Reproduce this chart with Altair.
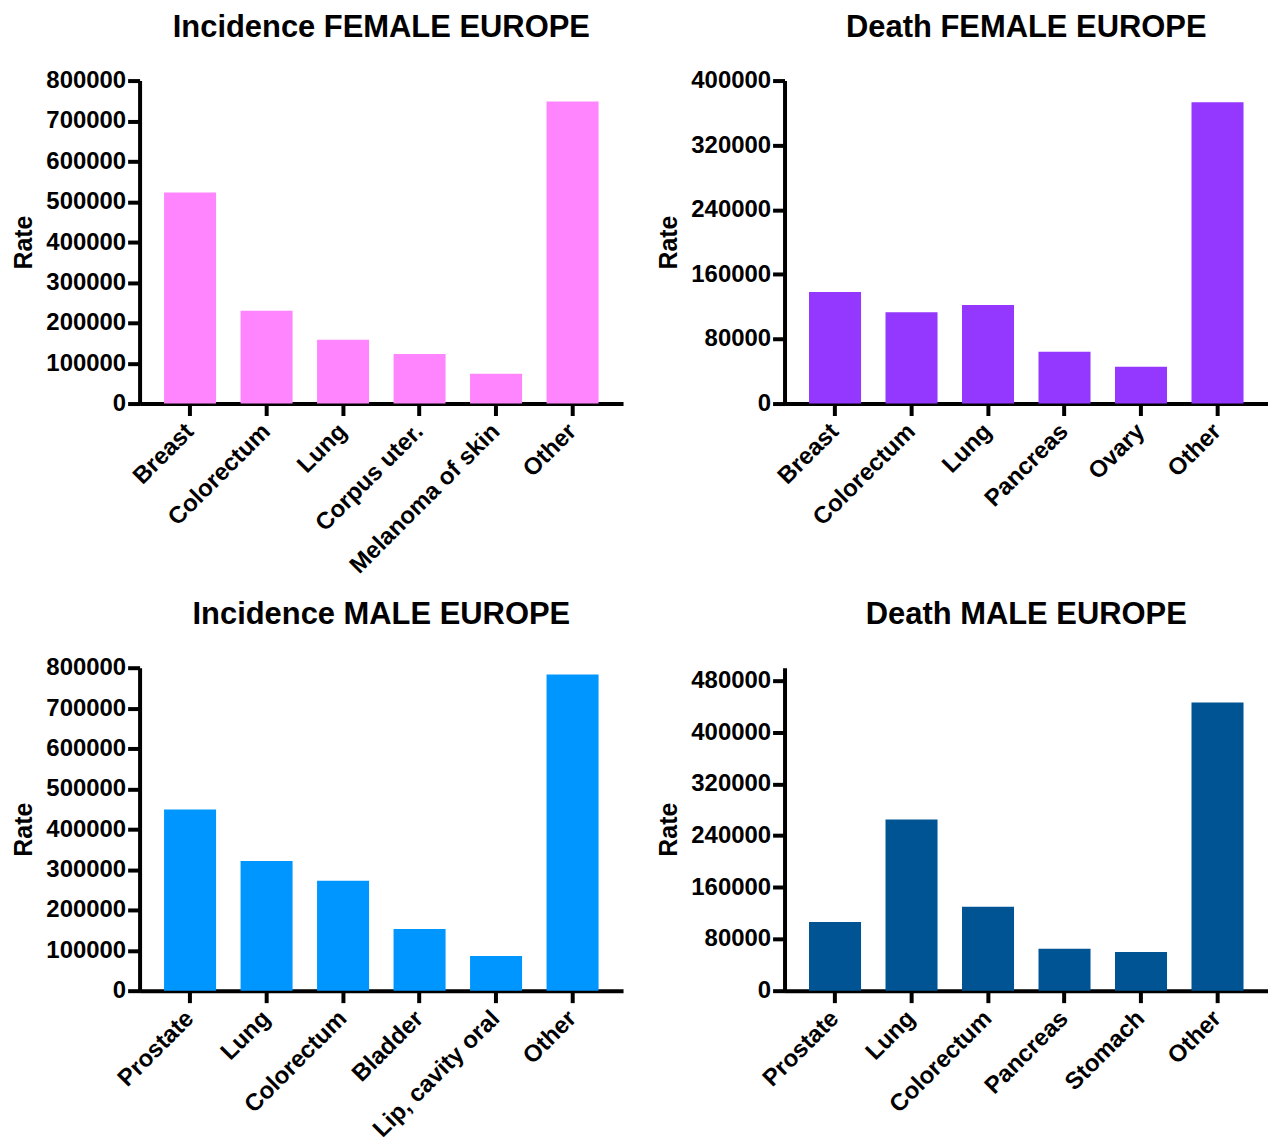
import altair as alt
import pandas as pd

FONT = "Liberation Sans"

# Incidence FEMALE EUROPE
inc_f_cat = ["Breast", "Colorectum", "Lung", "Corpus uter.", "Melanoma of skin", "Other"]
inc_f_val = [523000, 230000, 158000, 123000, 74000, 748000]

# Death FEMALE EUROPE
death_f_cat = ["Breast", "Colorectum", "Lung", "Pancreas", "Ovary", "Other"]
death_f_val = [138000, 113000, 122000, 64000, 45500, 373000]

# Incidence MALE EUROPE
inc_m_cat = ["Prostate", "Lung", "Colorectum", "Bladder", "Lip, cavity oral", "Other"]
inc_m_val = [449000, 321000, 272000, 153000, 86000, 783000]

# Death MALE EUROPE
death_m_cat = ["Prostate", "Lung", "Colorectum", "Pancreas", "Stomach", "Other"]
death_m_val = [106500, 265000, 130000, 65000, 60000, 446000]

ticks_100k = [0, 100000, 200000, 300000, 400000, 500000, 600000, 700000, 800000]
ticks_80k_400 = [0, 80000, 160000, 240000, 320000, 400000]
ticks_80k_480 = [0, 80000, 160000, 240000, 320000, 400000, 480000]


def panel(title, cats, vals, color, ymax, ticks, title_offset):
    df = pd.DataFrame({"cat": cats, "val": vals})
    return (
        alt.Chart(df)
        .mark_bar(color=color)
        .encode(
            x=alt.X(
                "cat:N",
                sort=cats,
                title=None,
                scale=alt.Scale(paddingInner=0.32, paddingOuter=0.32),
                axis=alt.Axis(
                    labelAngle=-45,
                    labelAlign="right",
                    labelBaseline="middle",
                    labelPadding=12,
                    labelFontSize=24,
                    labelLimit=500,
                ),
            ),
            y=alt.Y(
                "val:Q",
                title="Rate",
                scale=alt.Scale(domain=[0, ymax], nice=False),
                axis=alt.Axis(values=ticks, format="d", labelPadding=2, titlePadding=9),
            ),
        )
        .properties(
            width=485,
            height=324,
            title=alt.TitleParams(title, fontSize=31, font=FONT, fontWeight="bold",
                                  anchor="middle", frame="group", offset=title_offset,
                                  color="black"),
        )
    )


c1 = panel("Incidence FEMALE EUROPE", inc_f_cat, inc_f_val, "#FF85FF", 800000, ticks_100k, 25)
c2 = panel("Death FEMALE EUROPE", death_f_cat, death_f_val, "#9437FF", 400000, ticks_80k_400, 25)
c3 = panel("Incidence MALE EUROPE", inc_m_cat, inc_m_val, "#0096FF", 800000, ticks_100k, 25)
c4 = panel("Death MALE EUROPE", death_m_cat, death_m_val, "#005493", 500000, ticks_80k_480, 37)

chart = (
    alt.vconcat(
        alt.hconcat(c1, c2, spacing=33),
        alt.hconcat(c3, c4, spacing=33),
        spacing=21,
    )
    .properties(padding={"left": 3, "top": 2, "right": 0, "bottom": 0})
    .configure_view(stroke=None)
    .configure_axis(
        grid=False,
        domainColor="black",
        domainWidth=4,
        tickColor="black",
        tickWidth=4,
        tickSize=12,
        labelFont=FONT,
        labelFontWeight="bold",
        labelFontSize=24,
        labelColor="black",
        titleFont=FONT,
        titleFontWeight="bold",
        titleFontSize=25,
        titleColor="black",
    )
)

chart.save("out.html", embed_options={"renderer": "svg", "actions": False})
